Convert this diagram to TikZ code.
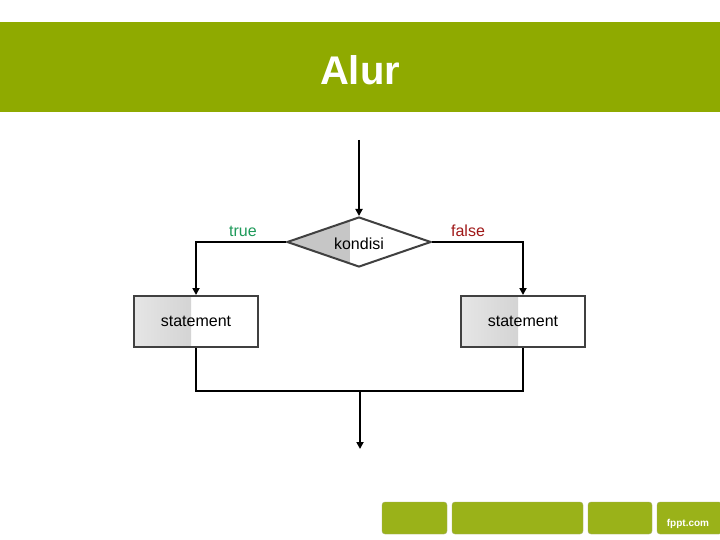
\documentclass[tikz,border=0pt]{standalone}
\usepackage{fontspec}
\setmainfont{Liberation Sans}
\usetikzlibrary{shapes.geometric,arrows.meta}
\definecolor{hdr}{HTML}{8FAA00}
\definecolor{tgreen}{HTML}{1E9A5A}
\definecolor{fred}{HTML}{A01818}
\begin{document}
\begin{tikzpicture}[x=1pt,y=-1pt,
  stmt/.style={draw=black!75,line width=2pt,minimum width=124pt,minimum height=51pt,inner sep=0pt,font=\fontsize{16}{18}\selectfont,
    path picture={\shade[left color=gray!20,right color=gray!50] (path picture bounding box.south west) rectangle ([xshift=57pt]path picture bounding box.north west);}},
  ln/.style={line width=2pt,black},
  arr/.style={ln,-{Triangle[length=7pt,width=7pt]}},
  bar/.style={fill=hdr!90!white,rounded corners=3pt,draw=hdr!70!black!60,line width=0.4pt}]
\useasboundingbox (0,0) rectangle (720,540);
\fill[white] (0,0) rectangle (720,540);
\fill[hdr] (0,22) rectangle (720,112);
\node (title)[text=white,font=\bfseries\fontsize{40}{44}\selectfont] at (360,70) {Alur};
\node (cond)[diamond,aspect=2.88,minimum width=144pt,minimum height=50pt,inner sep=0pt,draw=black!75,line width=2pt,
  path picture={\fill[gray!45] (path picture bounding box.south west) rectangle ([xshift=63pt]path picture bounding box.north west);}] at (359,242) {};
\node (condt)[font=\fontsize{16}{18}\selectfont] at (359,244) {kondisi};
\coordinate (start) at (359,140);
\node (s1)[stmt] at (196,321.5) {statement};
\node (s2)[stmt] at (523,321.5) {statement};
\coordinate (j1) at (196,391);
\coordinate (j2) at (523,391);
\coordinate (jm) at (360,391);
\coordinate (endp) at (360,449);
\draw[arr] (start) -- (cond.north);
\draw[arr] (cond.west) -| (s1.north);
\draw[arr] (cond.east) -| (s2.north);
\draw[ln] (s1.south) -- (j1) -- (j2) -- (s2.south);
\draw[arr] (jm) -- (endp);
\node (tt)[text=tgreen,font=\fontsize{16}{18}\selectfont] at (243,231) {true};
\node (ff)[text=fred,font=\fontsize{16}{18}\selectfont] at (468,231) {false};
\draw[bar] (382,502) rectangle (447,534);
\draw[bar] (452,502) rectangle (583,534);
\draw[bar] (588,502) rectangle (652,534);
\draw[bar] (657,502) rectangle (722,534);
\node (fp)[text=white,font=\bfseries\fontsize{10}{11}\selectfont] at (688,524) {fppt.com};
\end{tikzpicture}
\end{document}
